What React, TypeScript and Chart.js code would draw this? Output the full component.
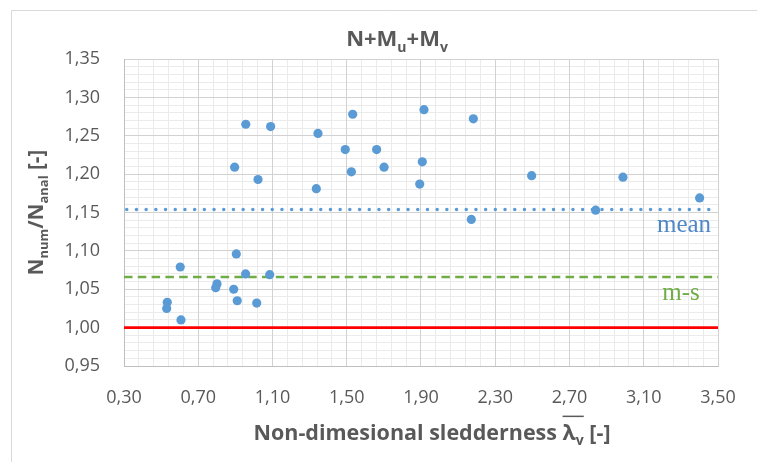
import React, { useEffect, useRef } from 'react';
import { Chart, registerables } from 'chart.js';

Chart.register(...registerables);

// ---- data ----
const slenderness = [
  0.533, 0.530, 0.607, 0.603, 0.801, 0.794, 0.891, 0.910, 0.905, 0.955, 1.015, 1.085,
  0.896, 0.956, 1.022, 1.090, 1.336, 1.345, 1.492, 1.525, 1.532, 1.661, 1.701, 1.893,
  1.907, 1.916, 2.171, 2.182, 2.496, 2.841, 2.988, 3.401,
];
const ratio = [
  1.033, 1.025, 1.010, 1.079, 1.057, 1.052, 1.050, 1.035, 1.096, 1.070, 1.032, 1.069,
  1.209, 1.265, 1.193, 1.262, 1.181, 1.253, 1.232, 1.203, 1.278, 1.232, 1.209, 1.187,
  1.216, 1.284, 1.141, 1.272, 1.198, 1.153, 1.196, 1.169,
];
const meanValue = 1.154;
const meanMinusStd = 1.066;
const referenceValue = 1.0;
const xRange = [0.3, 3.5];
const yRange = [0.95, 1.35];
const xMajorStep = 0.4;
const yMajorStep = 0.05;
const xMinorStep = 0.08;
const yMinorStep = 0.01;
const meanLabel = 'mean';
const msLabel = 'm-s';

const FONT = "'Open Sans', 'Liberation Sans', sans-serif";
const SERIF = "'Liberation Serif', 'DejaVu Serif', serif";
const TEXT = '#595959';

type Part = { t: string; sub?: boolean; over?: boolean };

function partFont(size: number, sub: boolean | undefined, weight: string, family: string) {
  const s = sub ? Math.round(size * 0.65) : size;
  return `${weight} ${s}px ${family}`;
}

function measureParts(ctx: CanvasRenderingContext2D, parts: Part[], size: number, weight: string, family: string) {
  let w = 0;
  for (const p of parts) {
    ctx.font = partFont(size, p.sub, weight, family);
    w += ctx.measureText(p.t).width;
  }
  return w;
}

function drawParts(
  ctx: CanvasRenderingContext2D,
  parts: Part[],
  cx: number,
  baseline: number,
  size: number,
  weight: string,
  family: string,
  color: string
) {
  const total = measureParts(ctx, parts, size, weight, family);
  let x = cx - total / 2;
  let overStart = -1;
  let overEnd = -1;
  ctx.fillStyle = color;
  ctx.textAlign = 'left';
  ctx.textBaseline = 'alphabetic';
  for (const p of parts) {
    ctx.font = partFont(size, p.sub, weight, family);
    const w = ctx.measureText(p.t).width;
    const y = p.sub ? baseline + size * 0.25 : baseline;
    ctx.fillText(p.t, x, y);
    if (p.over) {
      if (overStart < 0) overStart = x;
      overEnd = x + w;
    }
    x += w;
  }
  if (overStart >= 0) {
    ctx.strokeStyle = color;
    ctx.lineWidth = 1.5;
    ctx.beginPath();
    ctx.moveTo(overStart, baseline - size * 1.1);
    ctx.lineTo(overEnd, baseline - size * 1.1);
    ctx.stroke();
  }
}

const titleParts: Part[] = [
  { t: 'N+M' },
  { t: 'u', sub: true },
  { t: '+M' },
  { t: 'v', sub: true },
];
const yTitleParts: Part[] = [
  { t: 'N' },
  { t: 'num', sub: true },
  { t: '/N' },
  { t: 'anal', sub: true },
  { t: ' [-]' },
];
const xTitleParts: Part[] = [
  { t: 'Non-dimesional sledderness ' },
  { t: 'λ', over: true },
  { t: 'v', sub: true, over: true },
  { t: ' [-]' },
];

const decorPlugin = {
  id: 'decor',
  beforeDraw(chart: any) {
    const ctx = chart.ctx as CanvasRenderingContext2D;
    ctx.save();
    ctx.fillStyle = '#ffffff';
    ctx.fillRect(0, 0, chart.width, chart.height);
    ctx.strokeStyle = '#d9d9d9';
    ctx.lineWidth = 1;
    ctx.beginPath();
    ctx.moveTo(11.5, chart.height);
    ctx.lineTo(11.5, 10.5);
    ctx.lineTo(chart.width, 10.5);
    ctx.stroke();
    ctx.restore();
  },
  afterDraw(chart: any) {
    const ctx = chart.ctx as CanvasRenderingContext2D;
    const area = chart.chartArea;
    const yScale = chart.scales.y;
    ctx.save();
    // chart title
    drawParts(ctx, titleParts, 397, 46, 22, 'bold', FONT, TEXT);
    // x axis title
    drawParts(ctx, xTitleParts, (area.left + area.right) / 2 + 11, 440, 21.5, 'bold', FONT, TEXT);
    // y axis title
    ctx.save();
    ctx.translate(43, (area.top + area.bottom) / 2);
    ctx.rotate(-Math.PI / 2);
    drawParts(ctx, yTitleParts, 0, 0, 20.5, 'bold', FONT, TEXT);
    ctx.restore();
    // line labels
    ctx.font = `25px ${SERIF}`;
    ctx.textAlign = 'center';
    ctx.textBaseline = 'alphabetic';
    ctx.fillStyle = '#4f86c6';
    ctx.fillText(meanLabel, area.right - 34, yScale.getPixelForValue(meanValue) + 23);
    ctx.fillStyle = '#70ad47';
    ctx.fillText(msLabel, area.right - 37, yScale.getPixelForValue(meanMinusStd) + 23);
    ctx.restore();
  },
};

const fmt = (v: number | string) => Number(v).toFixed(2).replace('.', ',');

export default function App() {
  const ref = useRef<HTMLCanvasElement | null>(null);

  useEffect(() => {
    if (!ref.current) return;
    const points = slenderness.map((x, i) => ({ x, y: ratio[i] }));
    const hLine = (v: number) => [
      { x: xRange[0], y: v },
      { x: xRange[1], y: v },
    ];
    const chart = new Chart(ref.current, {
      type: 'scatter',
      data: {
        datasets: [
          {
            label: 'tests',
            data: points,
            backgroundColor: '#5b9bd5',
            borderColor: '#5b9bd5',
            borderWidth: 0,
            pointRadius: 4.6,
            order: 0,
          } as any,
          {
            type: 'line',
            label: 'mean',
            data: hLine(meanValue),
            borderColor: '#5b9bd5',
            borderWidth: 3.4,
            borderDash: [0.1, 9.6],
            borderDashOffset: 7,
            borderCapStyle: 'round',
            pointRadius: 0,
            showLine: true,
            order: 1,
          } as any,
          {
            type: 'line',
            label: 'm-s',
            data: hLine(meanMinusStd),
            borderColor: '#70ad47',
            borderWidth: 2.6,
            borderDash: [8.5, 5.3],
            pointRadius: 0,
            showLine: true,
            order: 1,
          } as any,
          {
            type: 'line',
            label: 'reference',
            data: hLine(referenceValue),
            borderColor: '#ff0000',
            borderWidth: 2.8,
            pointRadius: 0,
            showLine: true,
            order: 1,
          } as any,
        ],
      },
      options: {
        responsive: false,
        animation: false,
        devicePixelRatio: 1,
        layout: { padding: { top: 59, right: 39, bottom: 0, left: 0 } },
        plugins: {
          legend: { display: false },
          tooltip: { enabled: false },
          title: { display: false },
        },
        scales: {
          xMinor: {
            type: 'linear',
            position: 'bottom',
            min: xRange[0],
            max: xRange[1],
            z: -2,
            ticks: { display: false, stepSize: xMinorStep },
            grid: { color: '#ebebeb', lineWidth: 1, drawTicks: false },
            border: { display: false },
            afterFit: (s: any) => {
              s.height = 0;
            },
          },
          yMinor: {
            type: 'linear',
            position: 'left',
            min: yRange[0],
            max: yRange[1],
            z: -2,
            ticks: { display: false, stepSize: yMinorStep },
            grid: { color: '#ebebeb', lineWidth: 1, drawTicks: false },
            border: { display: false },
            afterFit: (s: any) => {
              s.width = 0;
            },
          },
          x: {
            type: 'linear',
            position: 'bottom',
            min: xRange[0],
            max: xRange[1],
            z: -1,
            ticks: {
              stepSize: xMajorStep,
              padding: 21,
              color: TEXT,
              font: { family: FONT, size: 18 },
              callback: (v: any) => fmt(v),
              maxRotation: 0,
              autoSkip: false,
            },
            grid: { color: '#d2d2d2', lineWidth: 1, drawTicks: false },
            border: { color: '#bfbfbf', width: 1 },
            afterFit: (s: any) => {
              s.height = 96;
            },
          },
          y: {
            type: 'linear',
            position: 'left',
            min: yRange[0],
            max: yRange[1],
            z: -1,
            ticks: {
              stepSize: yMajorStep,
              padding: 24,
              color: TEXT,
              font: { family: FONT, size: 18 },
              callback: (v: any) => fmt(v),
              autoSkip: false,
            },
            grid: { color: '#d2d2d2', lineWidth: 1, drawTicks: false },
            border: { color: '#bfbfbf', width: 1 },
            afterFit: (s: any) => {
              s.width = 124;
            },
          },
        },
      } as any,
      plugins: [decorPlugin],
    });
    return () => chart.destroy();
  }, []);

  return (
    <div style={{ position: 'fixed', left: 0, top: 0, width: 757, height: 462, background: '#fff' }}>
      <canvas ref={ref} width={757} height={462} style={{ width: 757, height: 462, display: 'block' }} />
    </div>
  );
}
